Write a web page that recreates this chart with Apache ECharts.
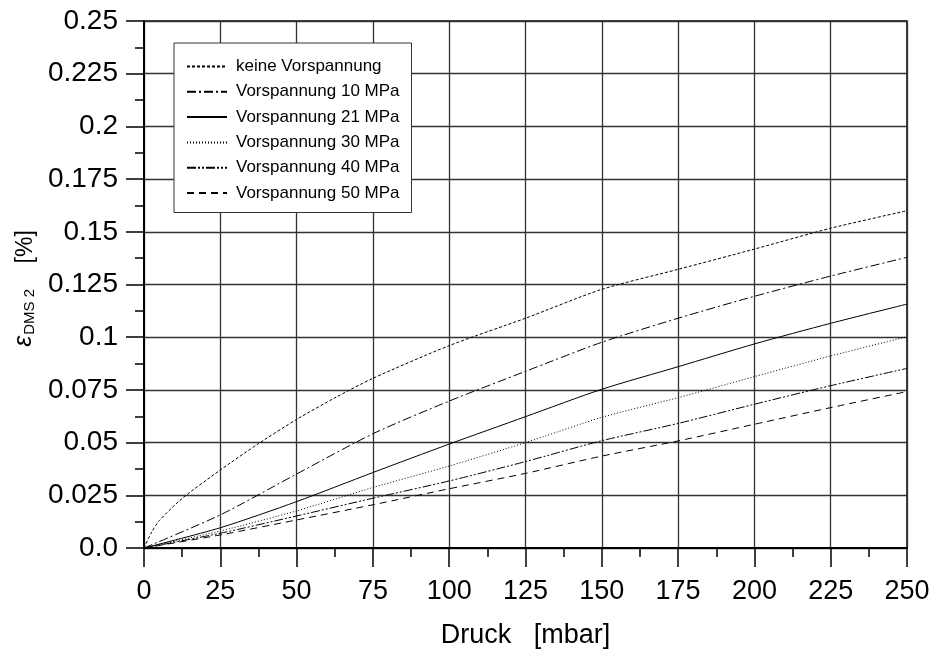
<!DOCTYPE html>
<html>
<head>
<meta charset="utf-8">
<script src="https://cdn.jsdelivr.net/npm/echarts@6/dist/echarts.min.js"></script>
<style>html,body{margin:0;padding:0;background:#fff}#c{width:933px;height:655px}</style>
</head>
<body>
<div id="c"></div>
<script>
// Data
var seriesNames = ['keine Vorspannung','Vorspannung 10 MPa','Vorspannung 21 MPa','Vorspannung 30 MPa','Vorspannung 40 MPa','Vorspannung 50 MPa'];
var pressure0 = [0, 2.5, 5, 12.5, 25, 37.5, 50, 62.5, 75, 100, 125, 150, 175, 200, 225, 250];
var keine =     [0, 0.0075, 0.013, 0.0235, 0.037, 0.0495, 0.061, 0.0712, 0.0805, 0.096, 0.109, 0.1227, 0.1322, 0.1418, 0.1517, 0.160];
var pressure = [0, 25, 50, 75, 100, 125, 150, 175, 200, 225, 250];
var mpa10 = [0, 0.0157, 0.0351, 0.0542, 0.0697, 0.0838, 0.0976, 0.109, 0.1194, 0.129, 0.1379];
var mpa21 = [0, 0.0096, 0.0220, 0.0358, 0.0493, 0.0623, 0.0753, 0.086, 0.0968, 0.1066, 0.1157];
var mpa30 = [0, 0.0081, 0.0176, 0.0287, 0.0389, 0.0500, 0.0620, 0.0713, 0.0813, 0.0911, 0.1002];
var mpa40 = [0, 0.0070, 0.0152, 0.0236, 0.0318, 0.0410, 0.0509, 0.0591, 0.0682, 0.0770, 0.0852];
var mpa50 = [0, 0.0062, 0.0133, 0.0205, 0.0281, 0.0354, 0.0436, 0.0508, 0.0587, 0.0666, 0.0742];
var xTickLabels = ['0','25','50','75','100','125','150','175','200','225','250'];
var yTickLabels = ['0.0','0.025','0.05','0.075','0.1','0.125','0.15','0.175','0.2','0.225','0.25'];

function pairs(xs, ys){ return xs.map(function(x,i){ return [x, ys[i]]; }); }
var dashStyles = [[3,2],[9,3,2,3],'solid',[1,2],[9,2,2,2,2,2],[7,5]];
var allData = [pairs(pressure0, keine), pairs(pressure, mpa10), pairs(pressure, mpa21), pairs(pressure, mpa30), pairs(pressure, mpa40), pairs(pressure, mpa50)];

var FONT = 'Liberation Sans, Arial, sans-serif';
var chart = echarts.init(document.getElementById('c'), null, {renderer:'canvas'});
var series = allData.map(function(d, i){
  return {
    name: seriesNames[i], type: 'line', data: d, smooth: 0.25, symbol: 'none',
    lineStyle: {color: '#000', width: 1, type: dashStyles[i]},
    itemStyle: {color: '#000'},
    emphasis: {disabled: true}, animation: false
  };
});
chart.setOption({
  animation: false,
  backgroundColor: '#fff',
  grid: {left: 144, right: 26, top: 21, bottom: 107, show: true, borderColor: '#000', borderWidth: 1.5, backgroundColor: 'transparent'},
  legend: {
    left: 174, top: 43, orient: 'vertical',
    data: seriesNames,
    itemWidth: 40, itemHeight: 17, itemGap: 8.3,
    padding: [15, 12, 11, 12],
    itemStyle: {color: 'rgba(0,0,0,0)', borderWidth: 0, opacity: 0},
    backgroundColor: '#fff', borderColor: '#333', borderWidth: 1, borderRadius: 0,
    textStyle: {fontFamily: FONT, fontSize: 17, color: '#000', padding: [0,0,0,4]},
    selectedMode: false
  },
  xAxis: {
    type: 'value', min: 0, max: 250, interval: 25,
    name: 'Druck   [mbar]', nameLocation: 'middle', nameGap: 74,
    nameTextStyle: {fontFamily: FONT, fontSize: 27, color: '#000'},
    axisLine: {show: true, onZero: false, lineStyle: {color: '#000', width: 2}},
    axisTick: {show: true, inside: false, length: 19, lineStyle: {color: '#000', width: 1.5}},
    minorTick: {show: true, splitNumber: 2, length: 9, lineStyle: {color: '#000', width: 1.5}},
    axisLabel: {fontFamily: FONT, fontSize: 27, color: '#000', margin: 30,
      formatter: function(v){ return xTickLabels[Math.round(v/25)]; }},
    splitLine: {show: true, lineStyle: {color: '#333', width: 1.3}}
  },
  yAxis: {
    type: 'value', min: 0, max: 0.25, interval: 0.025,
    name: '{e|ε}{s|DMS 2}{t|    [%]}', nameLocation: 'middle', nameGap: 106, nameRotate: 90,
    nameTextStyle: {fontFamily: FONT, color: '#000', padding: [0, 8, 0, 0],
      rich: {
        e: {fontFamily: FONT, fontSize: 25, fontStyle: 'italic', color: '#000', verticalAlign: 'bottom', lineHeight: 28},
        s: {fontFamily: FONT, fontSize: 15, color: '#000', verticalAlign: 'bottom', lineHeight: 14, padding: [0,0,0,1]},
        t: {fontFamily: FONT, fontSize: 23, color: '#000', verticalAlign: 'bottom', lineHeight: 28}
      }},
    axisLine: {show: true, onZero: false, lineStyle: {color: '#000', width: 2}},
    axisTick: {show: true, inside: false, length: 18, lineStyle: {color: '#000', width: 1.5}},
    minorTick: {show: true, splitNumber: 2, length: 9, lineStyle: {color: '#000', width: 1.5}},
    axisLabel: {fontFamily: FONT, fontSize: 28, color: '#000', margin: 26,
      formatter: function(v){ return yTickLabels[Math.round(v/0.025)]; }},
    splitLine: {show: true, lineStyle: {color: '#333', width: 1.3}}
  },
  series: series
});
</script>
</body>
</html>
